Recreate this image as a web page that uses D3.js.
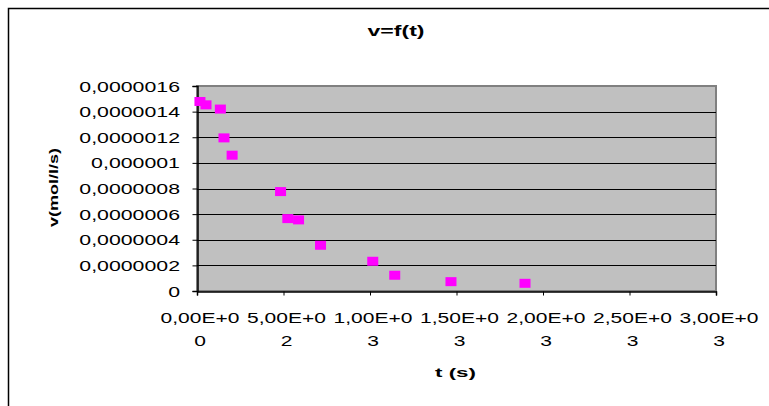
<!DOCTYPE html>
<html>
<head>
<meta charset="utf-8">
<script src="https://cdn.jsdelivr.net/npm/d3@7"></script>
<style>
  body { margin: 0; background: #fff; }
  text { font-family: 'Liberation Sans', Arial, sans-serif; fill: #000; }
</style>
</head>
<body>
<svg width="769" height="406"></svg>
<script>
// t in seconds, v in mol/l/s
let times = [17, 52, 135, 156, 203, 483, 525, 587, 714, 1016, 1143, 1468, 1896]
let rates = [1.479e-6, 1.453e-6, 1.42e-6, 1.195e-6, 1.06e-6, 0.776e-6, 0.565e-6, 0.555e-6,
             0.357e-6, 0.232e-6, 0.123e-6, 0.073e-6, 0.06e-6]

let xTicks = [0, 500, 1000, 1500, 2000, 2500, 3000]
let xTickLabels = ['0,00E+00', '5,00E+02', '1,00E+03', '1,50E+03', '2,00E+03', '2,50E+03', '3,00E+03']
let yTicks = [0, 2e-7, 4e-7, 6e-7, 8e-7, 1e-6, 1.2e-6, 1.4e-6, 1.6e-6]
let yTickLabels = ['0', '0,0000002', '0,0000004', '0,0000006', '0,0000008', '0,000001',
                   '0,0000012', '0,0000014', '0,0000016']

let svg = d3.select('svg')

let x = d3.scaleLinear().domain([0, 3000]).range([197, 716])
let y = d3.scaleLinear().domain([0, 1.6e-6]).range([291, 86])

// stretch text horizontally like the excel export
function stretch(sel, factor) {
  sel.each(function() {
    let w = this.getComputedTextLength()
    d3.select(this).attr('textLength', w * factor).attr('lengthAdjust', 'spacingAndGlyphs')
  })
}

// outer chart frame
svg.append('rect')
    .attr('x', 8.5).attr('y', 8.5)
    .attr('width', 900).attr('height', 500)
    .attr('fill', 'none')
    .attr('stroke', '#000')
    .attr('stroke-width', 1.5)

// plot area
svg.append('rect')
    .attr('x', x(0)).attr('y', y(1.6e-6))
    .attr('width', x(3000) - x(0))
    .attr('height', y(0) - y(1.6e-6))
    .attr('fill', '#c0c0c0')
    .attr('stroke', '#808080')
    .attr('stroke-width', 2)

// gridlines
svg.append('g')
  .selectAll('line')
  .data(yTicks.slice(1, -1))
  .enter().append('line')
    .attr('x1', x(0)).attr('x2', x(3000))
    .attr('y1', d => Math.round(y(d)) + 0.5)
    .attr('y2', d => Math.round(y(d)) + 0.5)
    .attr('stroke', '#000')
    .attr('stroke-width', 1)

// y axis
let yAxis = svg.append('g')
    .attr('transform', 'translate(' + (x(0) + 0.5) + ',0)')
    .call(d3.axisLeft(y).tickValues(yTicks).tickSize(5).tickFormat(''))
yAxis.select('.domain').attr('stroke', '#000').attr('stroke-width', 1.5)
yAxis.selectAll('.tick line').attr('stroke', '#000')

svg.append('g')
  .selectAll('text')
  .data(yTicks)
  .enter().append('text')
    .attr('x', 180)
    .attr('y', d => y(d) + 5.5)
    .attr('text-anchor', 'end')
    .attr('font-size', 15)
    .text((d, i) => yTickLabels[i])
    .call(stretch, 1.42)

// x axis
let xAxis = svg.append('g')
    .attr('transform', 'translate(0,' + (y(0) + 0.5) + ')')
    .call(d3.axisBottom(x).tickValues(xTicks).tickSize(4).tickFormat(''))
xAxis.select('.domain').attr('stroke', '#000').attr('stroke-width', 1.5)
xAxis.selectAll('.tick line').attr('stroke', '#000')

let xl = svg.append('g')
  .selectAll('g')
  .data(xTicks)
  .enter().append('g')
xl.append('text')
    .attr('x', d => x(d) + 3)
    .attr('y', 322.5)
    .attr('text-anchor', 'middle')
    .attr('font-size', 15)
    .text((d, i) => xTickLabels[i].slice(0, 7))
    .call(stretch, 1.4)
xl.append('text')
    .attr('x', d => x(d) + 3)
    .attr('y', 345.5)
    .attr('text-anchor', 'middle')
    .attr('font-size', 15)
    .text((d, i) => xTickLabels[i].slice(7))
    .call(stretch, 1.4)

// titles
svg.append('text')
    .attr('x', 396).attr('y', 35.5)
    .attr('text-anchor', 'middle')
    .attr('font-size', 14)
    .attr('font-weight', 700)
    .attr('textLength', 57).attr('lengthAdjust', 'spacingAndGlyphs')
    .text('v=f(t)')

svg.append('text')
    .attr('transform', 'translate(57.5,187.5) rotate(-90)')
    .attr('text-anchor', 'middle')
    .attr('font-size', 13)
    .attr('font-weight', 700)
    .attr('textLength', 79).attr('lengthAdjust', 'spacingAndGlyphs')
    .text('v(mol/l/s)')

svg.append('text')
    .attr('x', 455.5).attr('y', 376.5)
    .attr('text-anchor', 'middle')
    .attr('font-size', 13)
    .attr('font-weight', 700)
    .attr('textLength', 41).attr('lengthAdjust', 'spacingAndGlyphs')
    .text('t (s)')

// markers
svg.append('g')
  .selectAll('rect')
  .data(times)
  .enter().append('rect')
    .attr('x', (d, i) => x(d) - 5.5)
    .attr('y', (d, i) => y(rates[i]) - 4.5)
    .attr('width', 11)
    .attr('height', 9)
    .attr('fill', '#ff00ff')
</script>
</body>
</html>
